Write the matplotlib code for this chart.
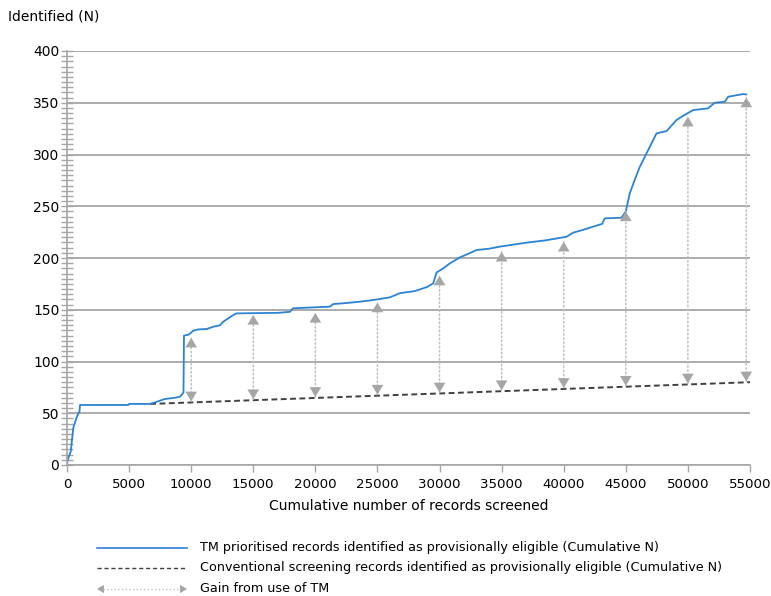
import matplotlib
matplotlib.use("Agg")
import matplotlib.pyplot as plt
from matplotlib.lines import Line2D

# TM prioritised cumulative identified
tm_x = [0, 56, 300, 380, 510, 720, 910, 1000, 1050, 4940, 5000, 6680, 7080, 7890, 8700, 9100,
        9380, 9420, 9800, 10170, 10570, 11250, 11780, 12320, 12580, 12990, 13390,
        13660, 17010, 17950, 18200, 21170, 21440, 22500, 23590, 24390, 25000,
        26000, 26800, 28000, 29000, 29490, 29760, 30300, 30830, 31640, 32300,
        32980, 34000, 34860, 37000, 38500, 40230, 40740, 41500, 42340, 43100, 43300,
        44650, 45000, 45320, 45700, 46130, 46800, 47470, 48280, 49080, 49700,
        50420, 51630, 52160, 52970, 53240, 54440, 54700]
tm_y = [0, 5, 13, 22, 36, 44, 50, 51, 58, 58, 59, 59, 60.5, 63.8, 65, 66,
        70, 125, 126, 129.8, 131, 131.4, 133.6, 135, 138.4, 141.7, 144.9,
        146.5, 147, 148, 151.4, 153, 155.5, 156.5, 157.8, 159, 160,
        162, 166, 168, 172, 175.5, 186, 190, 194.8, 200.6, 204,
        207.7, 209, 211, 214.8, 217, 220.5, 224.4, 227, 230.2, 233, 238.3,
        238.9, 245, 262.5, 275, 288.2, 304.3, 320.4, 322.6, 333.3, 338,
        342.9, 344.6, 350, 351, 355.8, 358.4, 358]

# conventional screening (linear)
conv_x = [6700, 55000]
conv_y = [59, 80]

# gain arrows: x position, bottom (conventional) and top (TM) value
gain_x = [10000, 15000, 20000, 25000, 30000, 35000, 40000, 45000, 50000, 54700]
gain_lo = [61.5, 63.6, 65.8, 68.0, 70.1, 72.3, 74.5, 76.6, 78.8, 80.8]
gain_hi = [123, 145, 147, 157, 183, 206, 215.7, 245, 336.5, 355]

legend_labels = [
    "TM prioritised records identified as provisionally eligible (Cumulative N)",
    "Conventional screening records identified as provisionally eligible (Cumulative N)",
    "Gain from use of TM",
]

BLUE = "#2b83d3"
GRID = "#a6a6a6"
ARROW = "#a6a6a6"
HEAD = "-|>,head_length=0.7,head_width=0.42"

fig = plt.figure(figsize=(7.71, 5.96), dpi=100)
ax = fig.add_axes([67 / 771, 1 - 465 / 596, (750 - 67) / 771, (465 - 51) / 596])

ax.set_xlim(0, 55000)
ax.set_ylim(0, 400)
ax.set_xticks(range(0, 55001, 5000))
ax.set_yticks(range(0, 401, 50))
ax.set_yticks(range(0, 401, 5), minor=True)
ax.yaxis.grid(True, color=GRID, linewidth=1.3)
ax.set_axisbelow(True)

for s in ["top", "right"]:
    ax.spines[s].set_visible(False)
for s in ["left", "bottom"]:
    ax.spines[s].set_color(GRID)
    ax.spines[s].set_linewidth(1.2)

ax.tick_params(axis="y", which="both", direction="inout", length=9, color=GRID,
               width=1.0, labelsize=10, pad=1)
ax.tick_params(axis="x", direction="out", length=5, color=GRID, width=1.0,
               labelsize=9.6, pad=4)

# gain arrows
for x, lo, hi in zip(gain_x, gain_lo, gain_hi):
    ax.annotate("", xy=(x, hi), xytext=(x, lo),
                arrowprops=dict(arrowstyle="-", color="#c0c0c0", lw=1.1,
                                linestyle=":", shrinkA=0, shrinkB=0))
    ax.annotate("", xy=(x, hi), xytext=(x, hi - 12),
                arrowprops=dict(arrowstyle=HEAD, color=ARROW, lw=0, shrinkA=0, shrinkB=0))
    ax.annotate("", xy=(x, lo), xytext=(x, lo + 12),
                arrowprops=dict(arrowstyle=HEAD, color=ARROW, lw=0, shrinkA=0, shrinkB=0))

ax.plot(conv_x, conv_y, color="#404040", linewidth=1.4, linestyle=(0, (3, 1.8)))
ax.plot(tm_x, tm_y, color=BLUE, linewidth=1.3)

ax.set_xlabel("Cumulative number of records screened", fontsize=10, labelpad=6)
fig.text(8 / 771, 1 - 16 / 596, "Identified (N)", fontsize=10, va="center")

# legend drawn by hand below the chart
rows = [548, 568, 589]
x0, x1, xt = 97 / 771, 187 / 771, 200 / 771
fig.add_artist(Line2D([x0, x1], [1 - rows[0] / 596] * 2, color=BLUE, lw=1.2,
                      transform=fig.transFigure))
fig.add_artist(Line2D([x0, x1], [1 - rows[1] / 596] * 2, color="#404040", lw=1.0,
                      linestyle=(0, (3, 2)), transform=fig.transFigure))
fig.add_artist(Line2D([x0 + 0.008, x1 - 0.008], [1 - rows[2] / 596] * 2, color="#c0c0c0",
                      lw=1.0, linestyle=":", transform=fig.transFigure))
for tip, tail in [(x0, x0 + 0.012), (x1, x1 - 0.012)]:
    fig.add_artist(plt.Annotation("", xy=(tip, 1 - rows[2] / 596),
                                  xytext=(tail, 1 - rows[2] / 596),
                                  xycoords="figure fraction", textcoords="figure fraction",
                                  arrowprops=dict(arrowstyle="-|>,head_length=0.5,head_width=0.3",
                                                  color=ARROW, lw=0, shrinkA=0, shrinkB=0)))
for r, lab in zip(rows, legend_labels):
    fig.text(xt, 1 - r / 596, lab, fontsize=9.2, va="center")

fig.savefig("out.png", dpi=100)
